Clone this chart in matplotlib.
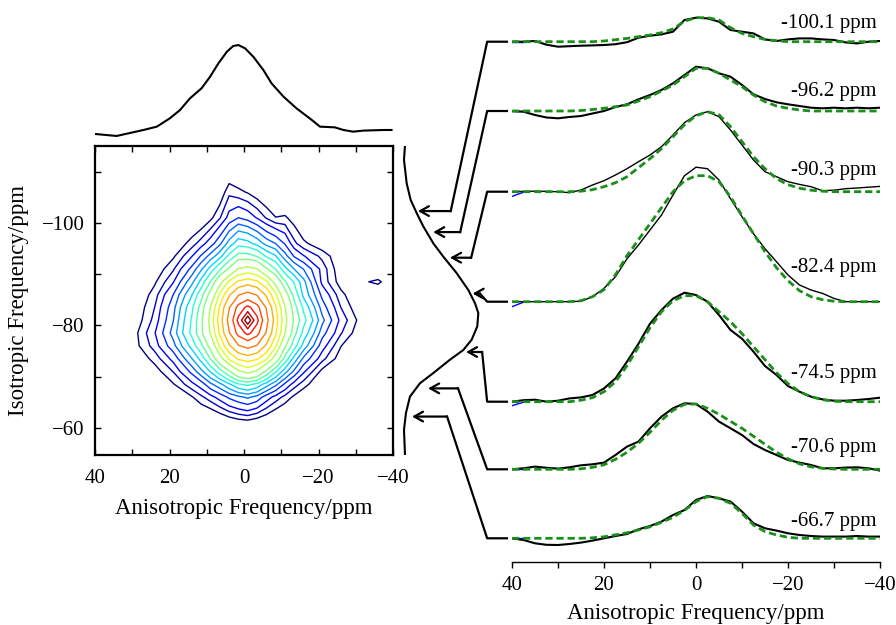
import numpy as np
import matplotlib
matplotlib.use('Agg')
import matplotlib.pyplot as plt
from matplotlib.lines import Line2D
from matplotlib.patches import FancyArrowPatch

plt.rcParams['font.family'] = ['Liberation Serif', 'DejaVu Serif']

# ---- 2D spectrum, intensity (% of max) ----
aniso_grid = [39, 34, 29, 24, 19, 14, 11.5, 9, 6.5, 4, 1.5, -1, -3.5, -6, -8.5, -11, -13.5, -16,
              -21, -26, -31, -36, -41]
iso_grid = [-116, -111, -106, -101, -96, -93.5, -91, -88.5, -86, -83.5, -81, -78.5, -76, -73.5,
            -71, -68.5, -66, -61, -56, -51]
intensity = [
    [0, 0, 0, 0, 0, 0, 0, 0, 0.4, 0.4, 0.4, 0.3, 0.25, 0.1, 0, 0, 0, 0, 0, 0, 0, 0, 0],
    [0, 0, 0, 0, 0, 0, 0.3, 0.55, 1.15, 2.0, 1.7, 1.2, 0.9, 0.6, 0.3, 0.2, 0.1, 0.05, 0, 0, 0, 0, 0],
    [0, 0, 0, 0, 0.1, 0.4, 0.65, 1.7, 3.2, 6.5, 5.6, 4.8, 3.6, 2.4, 1.25, 0.8, 0.8, 0.6, 0.1, 0, 0, 0, 0],
    [0, 0, 0, 0.3, 0.7, 1.8, 2.6, 4.4, 6.8, 10, 11.8, 10.7, 8.9, 6.8, 5.1, 5.4, 3.9, 1.9, 0.55, 0.3, 0, 0, 0],
    [0, 0.1, 0.4, 1.0, 2.8, 6.0, 8.0, 10.4, 13.8, 18.6, 22.7, 21.8, 19.4, 16.2, 14.4, 11.5, 7.5, 5.5,
     3.3, 2.4, 0.7, 0.2, 0],
    [0, 0.25, 0.65, 1.9, 4.6, 9.0, 12.1, 15.6, 19.3, 25.6, 31.3, 31.3, 29.0, 24.0, 21.0, 15.6, 11.5, 9.3,
     6.4, 3.1, 0.65, 0.1, 0],
    [0.1, 0.5, 1.1, 3.3, 6.7, 12.6, 16.9, 22.0, 28.4, 36.0, 45, 47.0, 44.5, 36.0, 29, 21.8, 17.3, 14.4,
     8.2, 3.3, 0.7, 0.3, 0],
    [0.2, 0.6, 1.9, 4.6, 8.9, 16.5, 21.8, 29.5, 41.5, 52.2, 58.1, 60.3, 58.1, 52.2, 41.5, 30.0, 24.0, 18.3,
     8.4, 3.9, 4.0, 6.0, 0.2],
    [0.3, 0.8, 2.7, 6.0, 11.8, 20.5, 27.3, 37.5, 52.2, 62.5, 70.4, 73.5, 70.4, 62.5, 52.2, 38.5, 27.3, 19.7,
     11.0, 5.7, 2.6, 0.8, 0.3],
    [0.35, 1.05, 3.3, 7.0, 13.5, 23.6, 31.3, 44.8, 58.1, 70.4, 81.3, 86.8, 81.3, 70.4, 58.1, 45.0, 31.4, 23.6,
     13.2, 7.0, 3.3, 1.05, 0.35],
    [0.4, 1.2, 3.7, 7.7, 14.4, 25.0, 33.4, 47.0, 60.3, 73.5, 86.8, 100, 86.8, 73.5, 60.3, 47.0, 33.7, 26.0,
     15.3, 8.4, 4.4, 1.7, 0.6],
    [0.55, 1.8, 4.6, 8.9, 15.6, 25.6, 33.4, 45.2, 58.1, 70.4, 81.3, 86.8, 81.3, 70.4, 58.1, 45.0, 31.0, 23.1,
     12.9, 7.2, 3.6, 1.4, 0.45],
    [0.7, 1.9, 4.4, 7.9, 13.5, 22.0, 28.0, 37.5, 52.2, 62.5, 70.4, 73.5, 70.4, 62.5, 52.2, 36.0, 26.2, 19.3,
     10.2, 5.1, 2.0, 0.7, 0.2],
    [0.45, 1.25, 3.1, 5.8, 9.9, 17.3, 22.0, 29.5, 41.0, 52.2, 58.1, 60.3, 58.1, 52.2, 40.0, 27.3, 19.3, 13.8,
     7.7, 3.8, 1.25, 0.4, 0.1],
    [0.2, 0.6, 1.7, 3.9, 7.1, 12.6, 16.5, 21.0, 26.7, 34.0, 43.3, 47.0, 43.2, 33.5, 25.0, 18.6, 13.8, 9.5,
     4.3, 2.0, 0.7, 0.2, 0],
    [0.05, 0.35, 0.9, 2.4, 4.8, 8.4, 10.4, 13.8, 16.5, 20.1, 24.0, 25.6, 23.2, 19.0, 15.3, 11.2, 8.0, 6.0,
     2.4, 0.65, 0.4, 0.1, 0],
    [0, 0.1, 0.4, 1.1, 2.7, 4.8, 6.5, 8.2, 10.1, 12.3, 13.8, 15.0, 13.5, 10.4, 8.2, 6.3, 4.5, 2.9,
     1.0, 0.3, 0, 0, 0],
    [0, 0, 0, 0, 0.2, 0.7, 1.0, 1.1, 2.0, 2.9, 3.6, 3.9, 3.2, 2.5, 1.4, 0.9, 0.6, 0.3, 0, 0, 0, 0, 0],
    [0, 0, 0, 0, 0, 0, 0, 0, 0.1, 0.3, 0.45, 0.5, 0.35, 0.2, 0.05, 0, 0, 0, 0, 0, 0, 0, 0],
    [0, 0, 0, 0, 0, 0, 0, 0, 0, 0, 0, 0, 0, 0, 0, 0, 0, 0, 0, 0, 0, 0, 0],
]
# contour levels (not evenly spaced), coloured from navy to dark red
levels = [5, 7, 9.1, 11.8, 14.5, 17.4, 20.7, 24.5, 29.3, 35, 44.4, 51, 57.2, 63.5, 71, 78.8, 85.1, 91.1, 95.8]

# ---- projections ----
top_ppm = [40, 34.2, 27, 23.4, 19.9, 17.2, 14.5, 11.4, 9.1, 6.9, 4.6, 2.9, 1.5, -0.3,
           -2.5, -5.2, -7.4, -10.6, -14.1, -18.2, -20.4, -24.4, -26.7, -29.3, -32, -37.4, -39.6]
top_int = [-1.1, -3.4, 3.4, 7.2, 16.7, 26, 39.4, 50.8, 64, 79, 92.4, 98.9, 100, 96.2,
           86.7, 71.6, 56.4, 41.3, 28, 14.8, 7.2, 6.4, 3.4, 1.5, 2.7, 3.4, 3.4]
side_ppm = [-115.2, -112.3, -107.7, -104.5, -101.9, -99.3, -96.0, -93.4, -90.2, -86.9, -84.3,
            -82.4, -79.8, -77.2, -75.2, -73.3, -70.7, -68.7, -66.1, -62.9, -59.6, -54.7]
side_int = [1.4, 0, 3.7, 9.1, 17.4, 26.5, 40.2, 53.9, 72.1, 88.1, 97.3,
            101.8, 100.4, 92.7, 81.3, 63, 40.2, 21.9, 8.2, 2.7, 0, 1.4]

# ---- slices (anisotropic ppm grid, heights) ----
slice_ppm = [40, 37.5, 35, 32.5, 30, 27.5, 25, 22.5, 20, 17.5, 15, 12.5, 10, 7.5, 5, 2.5, 0,
             -2.5, -5, -7.5, -10, -12.5, -15, -17.5, -20, -22.5, -25, -27.5, -30, -32.5, -35, -37.5, -40]
slice_labels = ['-100.1 ppm', '-96.2 ppm', '-90.3 ppm', '-82.4 ppm', '-74.5 ppm', '-70.6 ppm', '-66.7 ppm']
slice_offset = [520.3, 451, 370.3, 260.3, 160.3, 92.7, 23.7]
slice_data = [
    [0, 0, 0.7, -3, -5, -4.5, -4, -3.7, -3.3, -2.5, -0.5, 4, 6, 7.3, 10, 21.7, 24, 23.3, 20, 11.7,
     10, 8.3, 2.3, 0.7, 2.3, 3.3, 3.3, 2.3, 1.7, -0.7, -1.7, 0, 0.7],
    [0, -0.7, -4, -6.5, -7.3, -6, -5, -2.5, 0, 4, 6.7, 11.7, 16, 21, 27.7, 36, 44.3, 42.7, 37.7, 34.3,
     26, 16.7, 12, 8.7, 6.7, 5, 3.3, 2.7, 3.3, 2.7, 3.3, 2.7, 3.3],
    [0, 0.3, 0.5, 0.3, 0, -1, 1.7, 6.7, 11, 16.7, 23, 30, 36.7, 45, 56.7, 69, 76.7, 80, 75, 61.7,
     46.7, 31.7, 20, 15, 10, 7.3, 5, 1, 1.5, 3, 3.7, 4.5, 5.3],
    [0, 0, 0, 0, 0, 0, 0.5, 5, 13.3, 25, 43, 56.7, 71.7, 86.7, 106.7, 126, 134.5, 133, 121.7, 103,
     85, 68, 53, 40, 26.7, 16.7, 11.7, 8.3, 3.3, 0, 0, 0, 0],
    [0, 1.5, 2, 0, 1, 3.3, 4.3, 6.7, 13.3, 23.3, 40, 58, 78, 91.7, 103, 109, 106.7, 100, 86.7, 71.7,
     63, 50, 35.7, 26.7, 15.7, 10, 5, 2.3, 1, 1, 1.7, 2.7, 4],
    [0, 1, 2.7, 1.5, 0.7, 2, 4, 5, 6.7, 14.3, 22.7, 27.7, 41, 52.7, 61, 66, 65.3, 57.7, 47.7, 41,
     34.3, 25.3, 19.3, 14.3, 9.3, 6.7, 4.3, 1, 1, 1.7, 2, 1, -1.3],
    [0, -1.7, -5, -6.5, -6.7, -5.7, -4.3, -2.3, 0, 2.3, 4.3, 9, 12.3, 16.7, 23.3, 28.3, 38.3, 42.3, 40, 36.7,
     26.7, 15, 10, 7.7, 5, 3.3, 2.3, 1.7, 1.7, 1.7, 2.3, 1.7, 1.7],
]
slice_fit = [
    [0, 0, 0, 0, 0, 0, 0, 0, 0.7, 2, 3.3, 5, 6.7, 9, 12.7, 20.5, 24, 24, 21.7, 14,
     8.3, 5, 2.3, 1, 0, 0, 0, 0, 0, 0, 0, 0, 0],
    [0, 0, 0, 0, 0, 0, 0.5, 1.5, 2.7, 4.3, 6, 10, 14.3, 20, 26, 34.3, 42.7, 42.7, 37.7, 31,
     24.3, 16, 9.3, 5, 2.7, 1, 0, 0, 0, 0, 0, 0, 0],
    [0, 0, 0, 0, 0, 0, 0.5, 2, 5, 9, 15, 24, 33, 43, 55, 67, 76, 80, 77, 65,
     50, 35, 23, 13, 7, 3.5, 1.5, 0.5, 0, 0, 0, 0, 0],
    [0, 0, 0, 0, 0, 0, 1, 5, 12, 27, 46, 62, 78, 94, 110, 121, 126, 126, 120, 105,
     86, 68, 50, 34, 21, 11, 5, 2, 0.5, 0, 0, 0, 0],
    [0, 0, 0, 0, 0, 0, 1.5, 4, 10, 20, 36, 55, 74, 90, 101, 106, 106, 100, 90, 80,
     68, 55, 42, 29, 18, 10, 5, 2, 0.5, 0, 0, 0, 0],
    [0, 0, 0, 0, 0, 0, 0.5, 2, 4.5, 10, 17, 26, 37, 49, 59, 65, 65.3, 61, 55, 48,
     41, 33, 25, 17, 10.5, 5.5, 2.5, 1, 0.3, 0, 0, 0, 0],
    [0, 0, 0, 0, 0, 0, 0, 0.5, 1.5, 3.5, 5.5, 8.3, 11.5, 16, 21, 28, 36.7, 41.7, 40, 35,
     25, 13.3, 6.7, 3.3, 1, 0, 0, 0, 0, 0, 0, 0, 0],
]
# short blue trace visible at the left end of each slice
blue_ppm = [40, 37.5]
slice_blue = [[0, 0], [0, 0], [-4.7, -0.5], [-5, -0.5], [-4, -0.5], [0, 0], [0, 0]]
data_lw = [1.5, 1.5, 1.0, 1.0, 1.5, 1.5, 1.5]
label_dy = [14, 15, 17, 30, 24, 17, 12]

# arrows from each slice to the isotropic projection
arrow_tip_ppm = [-102.3, -98.2, -93.2, -86.2, -74.8, -67.7, -62.2]
arrow_tip_int = [19, 40, 63, 94, 85, 33, 11]
arrow_elbow_int = [64, 77, 92, 104, 107, 74, 59]

W, H = 896, 625
fig = plt.figure(figsize=(W / 100, H / 100), dpi=100)

def box(x0, y0, x1, y1):
    # pixel box (top-left origin) -> figure fraction
    return [x0 / W, 1 - y1 / H, (x1 - x0) / W, (y1 - y0) / H]

ylim_iso = (-54.7, -115)

# contour map
ax = fig.add_axes(box(95, 146, 393, 455))
level_colors = [plt.cm.jet(i / (len(levels) - 1)) for i in range(len(levels))]
ax.contour(aniso_grid, iso_grid, intensity, levels=levels, colors=level_colors, linewidths=1.0)
ax.set_xlim(40, -40)
ax.set_ylim(*ylim_iso)
ax.set_xticks([40, 30, 20, 10, 0, -10, -20, -30, -40])
ax.set_xticklabels(['40', '', '20', '', '0', '', '\u221220', '', '\u221240'])
ax.set_yticks([-110, -100, -90, -80, -70, -60])
ax.set_yticklabels(['', '\u2212100', '', '\u221280', '', '\u221260'])
ax.tick_params(direction='in', top=True, right=True, length=4, width=1, labelsize=15)
ax.tick_params(axis='x', pad=10)
ax.tick_params(axis='y', pad=7.5)
for s in ax.spines.values():
    s.set_linewidth(1.6)
ax.set_xlabel('Anisotropic Frequency/ppm', fontsize=16.5, labelpad=7)
ax.set_ylabel('Isotropic Frequency/ppm', fontsize=16.5, labelpad=9)

# top projection
axt = fig.add_axes(box(95, 38, 393, 138))
axt.plot(top_ppm, top_int, color='black', lw=1.5)
axt.set_xlim(40, -40)
axt.set_ylim(-5.7, 108)
axt.axis('off')

# side projection
axs = fig.add_axes(box(398, 146, 490, 455))
axs.plot(side_int, side_ppm, color='black', lw=1.5)
axs.set_xlim(-8.2, 117.8)
axs.set_ylim(*ylim_iso)
axs.axis('off')

# slices
axr = fig.add_axes(box(512, 5, 880, 562))
for i in range(len(slice_labels)):
    off = slice_offset[i]
    axr.plot(blue_ppm, np.array(slice_blue[i]) + off, color='blue', lw=1.0)
    axr.plot(slice_ppm, np.array(slice_data[i]) + off, color='black', lw=data_lw[i])
    axr.plot(slice_ppm, np.array(slice_fit[i]) + off, color='#1a8f1a', lw=2.0,
             linestyle=(0, (2.6, 1.4)))
    axr.text(-39.3, off + label_dy[i], slice_labels[i], ha='right', va='baseline', fontsize=15)
axr.set_xlim(40, -40)
axr.set_ylim(0, 557)
for k in ['top', 'left', 'right']:
    axr.spines[k].set_visible(False)
axr.spines['bottom'].set_linewidth(1.0)
axr.set_yticks([])
axr.set_xticks([40, 30, 20, 10, 0, -10, -20, -30, -40])
axr.set_xticklabels(['40', '', '20', '', '0', '', '\u221220', '', '\u221240'])
axr.tick_params(axis='x', direction='out', length=4, width=1, labelsize=15, pad=6)
axr.set_xlabel('Anisotropic Frequency/ppm', fontsize=16.5, labelpad=6)

# connectors
inv = fig.transFigure.inverted()
def fpos(a, x, y):
    return inv.transform(a.transData.transform((x, y)))

for i in range(len(slice_labels)):
    p0 = fpos(axr, 41.1, slice_offset[i])
    p1 = fpos(axr, 45.4, slice_offset[i])
    p2 = fpos(axs, arrow_elbow_int[i], arrow_tip_ppm[i])
    p3 = fpos(axs, arrow_tip_int[i], arrow_tip_ppm[i])
    fig.add_artist(Line2D([p0[0], p1[0], p2[0]], [p0[1], p1[1], p2[1]],
                          transform=fig.transFigure, color='black', lw=1.6))
    fig.add_artist(FancyArrowPatch(p2, p3, transform=fig.transFigure,
                                   arrowstyle='->,head_length=0.45,head_width=0.25',
                                   mutation_scale=14, lw=1.6, color='black',
                                   shrinkA=0, shrinkB=0))

plt.savefig('out.png', dpi=100)
